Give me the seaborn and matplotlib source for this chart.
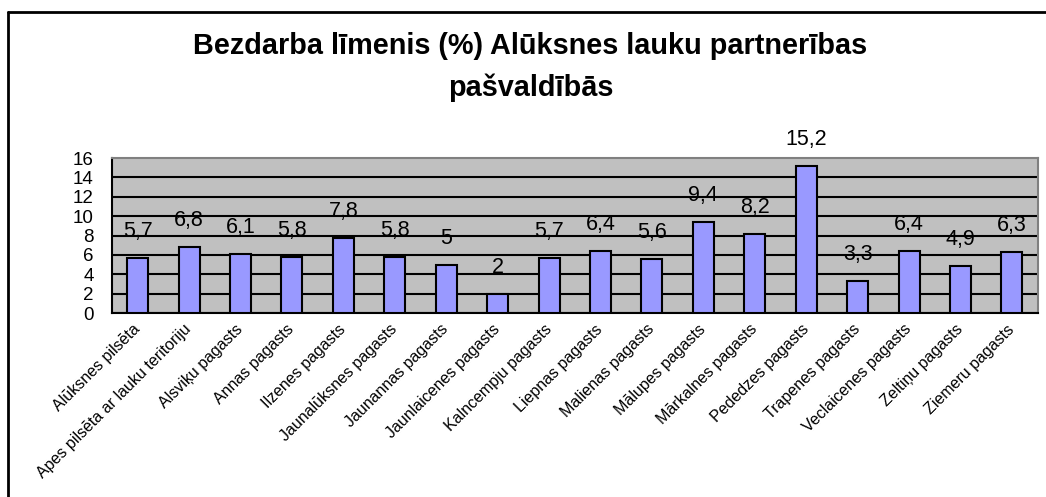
import matplotlib
matplotlib.use('Agg')
import matplotlib.pyplot as plt
import seaborn as sns
from matplotlib.lines import Line2D

# dati
pasvaldibas = [
    'Alūksnes pilsēta', 'Apes pilsēta ar lauku teritoriju', 'Alsviķu pagasts',
    'Annas pagasts', 'Ilzenes pagasts', 'Jaunalūksnes pagasts', 'Jaunannas pagasts',
    'Jaunlaicenes pagasts', 'Kalncempju pagasts', 'Liepnas pagasts', 'Malienas pagasts',
    'Mālupes pagasts', 'Mārkalnes pagasts', 'Pededzes pagasts', 'Trapenes pagasts',
    'Veclaicenes pagasts', 'Zeltiņu pagasts', 'Ziemeru pagasts',
]
bezdarbs = [5.7, 6.8, 6.1, 5.8, 7.8, 5.8, 5, 2, 5.7, 6.4, 5.6, 9.4, 8.2, 15.2, 3.3, 6.4, 4.9, 6.3]
y_ticks = [0, 2, 4, 6, 8, 10, 12, 14, 16]

sns.set_style('white')
plt.rcParams['font.family'] = ['Liberation Sans', 'DejaVu Sans']
plt.rcParams['text.color'] = 'black'
plt.rcParams['xtick.color'] = 'black'
plt.rcParams['ytick.color'] = 'black'

fig = plt.figure(figsize=(10.46, 4.97), dpi=100)
ax = fig.add_axes([0.107, 0.370, 0.885, 0.312])

sns.barplot(x=pasvaldibas, y=bezdarbs, color='#9999FF', saturation=1,
            edgecolor='black', linewidth=1.5, width=0.41, ax=ax, zorder=3)

ax.set_facecolor('#C0C0C0')
ax.set_xlim(-0.5, len(pasvaldibas) - 0.5)
ax.set_ylim(0, 16)
ax.set_yticks(y_ticks)
ax.set_yticklabels([str(t) for t in y_ticks], fontsize=13.5)

# horizontālās līnijas
ax.grid(axis='y', color='black', linewidth=1.5, zorder=1)
ax.set_axisbelow(True)
ax.get_ygridlines()[-1].set_visible(False)

for s in ['top', 'right']:
    ax.spines[s].set_color('#808080')
    ax.spines[s].set_linewidth(1.5)
for s in ['left', 'bottom']:
    ax.spines[s].set_color('black')
    ax.spines[s].set_linewidth(1.5)

# atzīmes starp kategorijām
ax.set_xticks(range(len(pasvaldibas)))
ax.set_xticks([i - 0.5 for i in range(len(pasvaldibas) + 1)], minor=True)
ax.tick_params(axis='x', which='major', length=0, pad=10)
ax.tick_params(axis='x', which='minor', length=5, width=1.5, color='black', direction='out')
ax.tick_params(axis='y', length=5, width=1.5, color='black', direction='out', pad=8)
ax.set_xticklabels(pasvaldibas, rotation=45, ha='right', va='center',
                   rotation_mode='anchor', fontsize=11.5)
ax.set_xlabel('')
ax.set_ylabel('')

for i, v in enumerate(bezdarbs):
    ax.annotate(f'{v:g}'.replace('.', ','), (i, v), xytext=(0, 19),
                textcoords='offset points', ha='center', va='center', fontsize=15.5)

fig.text(0.507, 0.866, 'Bezdarba līmenis (%) Alūksnes lauku partnerības\npašvaldībās',
         ha='center', va='center', fontsize=20.8, fontweight='bold', linespacing=1.6)

# rāmis
fig.add_artist(Line2D([0.008, 0.008], [0.0, 0.976], color='black', linewidth=2, transform=fig.transFigure))
fig.add_artist(Line2D([0.008, 1.0], [0.976, 0.976], color='black', linewidth=2, transform=fig.transFigure))

fig.savefig('out.png', dpi=100, facecolor='white')
